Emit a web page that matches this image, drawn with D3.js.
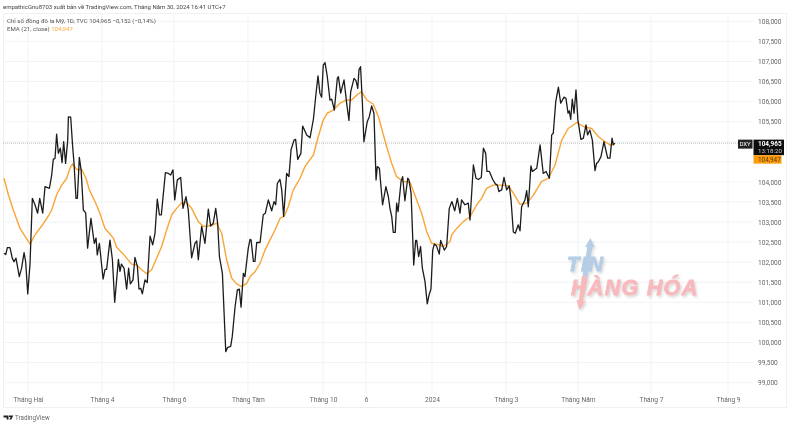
<!DOCTYPE html>
<html>

<head>
  <meta charset="utf-8">
  <style>
    body { margin: 0; background: #fff; }
    svg { filter: blur(0.3px); }
    text { font-family: Roboto, "Noto Sans", sans-serif; }
    .grid line { stroke: #f1f4f5; stroke-width: 1; }
    .axis path { display: none; }
    .axis text { fill: #666; font-size: 6.6px; }
  </style>
  <script src="https://d3js.org/d3.v7.min.js"></script>
</head>

<body>
  <svg width="797" height="437"></svg>
  <script>
    // bar number since the start of the window, then close
    var dxyDay = [0, 1, 1.9, 3.4, 4.7, 5.7, 6.8, 8.7, 10, 11.4, 12.3, 13.5, 14.8, 16.1, 17.6, 19.1, 20.3, 22, 23.3, 25.8, 27.1, 28, 29, 29.9, 30.9, 32, 33, 33.9, 35, 36.2, 36.6, 37.9, 39, 39.8, 40.9, 41.7, 42.8, 43.8, 45.1, 46.4, 47.5, 49.4, 51.3, 52.3, 53, 54.2, 56.3, 57.4, 58.3, 60.2, 61.6, 62.9, 65, 65.9, 66.7, 68.2, 69.7, 70.8, 71.8, 73.3, 74.4, 75.8, 76.7, 77.7, 78.6, 80.1, 81.4, 83, 84.5, 85.8, 87.1, 88.3, 89.4, 91.7, 93.4, 94.7, 96, 97, 98.5, 100.4, 101.7, 103.4, 104.7, 106.6, 108.5, 109.5, 110.4, 112.3, 114.2, 116.1, 117.4, 118.9, 120.3, 121.4, 122.4, 124.1, 126, 127.1, 128.8, 129.7, 131.3, 132.6, 133.7, 134.7, 136, 136.9, 138.8, 139.8, 140.4, 141.7, 142.6, 143.6, 145.5, 147.3, 148.5, 150.2, 152.1, 153.4, 154.4, 155.3, 156.8, 157.8, 158.9, 160.6, 161.9, 163.1, 164.8, 165.7, 166.9, 168.7, 169.7, 172, 173.9, 175.8, 177.1, 178.4, 179.5, 180.5, 181.4, 182.4, 183.7, 185.2, 186.2, 187.7, 189.4, 190, 191.3, 193.2, 194.7, 196, 197, 198.9, 200, 201, 201.7, 202.6, 203.6, 204.5, 206.4, 207.6, 208.9, 210.2, 211.4, 212.1, 213.3, 215.1, 217, 218.4, 219.3, 220.3, 221.2, 222.3, 223.1, 223.9, 225.6, 226.5, 227.8, 229.4, 230.1, 231.3, 232.8, 233.9, 234.5, 235.6, 236.7, 237.7, 239.2, 240.5, 241.5, 242.6, 243.6, 244.5, 245.8, 247.3, 248.1, 250.2, 251.5, 253, 254.5, 256.1, 257.6, 259.1, 260, 261.9, 263.8, 264.8, 266.7, 268.2, 269.5, 271.2, 272.4, 273.7, 274.4, 275.8, 277.7, 279.2, 280.3, 281.2, 282.8, 284.1, 285.6, 287.1, 288.1, 289.4, 290.5, 292.2, 293.2, 294.1, 296, 297, 297.9, 299.4, 300.2, 302.7, 304.6, 306.4, 308, 309.9, 311.2, 312.1, 313.5, 315, 316.3, 318.2, 319.3, 320.5, 321.2, 322, 322.9, 323.9, 325, 326.1, 327.8, 329.2, 330.7, 331.6, 332.9, 334.3, 335.8, 336.7, 337.7, 339.2, 340.9, 343, 344.3, 345.5, 346.2, 347];
    var dxyClose = [102.22, 102.19, 102.36, 102.36, 102.1, 102.01, 102.1, 101.64, 101.85, 102.24, 102.01, 101.21, 101.97, 103.59, 103.43, 103.22, 103.59, 103.22, 103.88, 103.84, 104.17, 104.56, 104.59, 105.19, 104.71, 104.84, 104.48, 105, 104.46, 105.04, 105.62, 105.61, 104.88, 104.46, 103.59, 103.59, 104.61, 104.3, 103.3, 103.23, 102.35, 103.09, 102.47, 102.6, 102.18, 102.47, 101.58, 101.82, 101.82, 102.55, 102.06, 101, 102.07, 101.77, 101.95, 101.85, 101.33, 101.85, 101.46, 101.56, 102.12, 101.89, 101.33, 101.35, 101.21, 101.56, 101.49, 102.65, 102.43, 102.72, 103.57, 103.18, 103.18, 104.23, 104.21, 104.17, 104.3, 103.55, 104.05, 104.11, 103.34, 103.63, 103.3, 102.11, 102.47, 102.53, 102.06, 102.89, 102.47, 103.32, 102.9, 102.97, 103.34, 102.97, 102.14, 101.72, 99.77, 99.88, 99.9, 100.15, 100.89, 101.31, 101.33, 100.88, 101.72, 101.64, 102.35, 102.57, 102.55, 102.02, 102.02, 102.49, 102.49, 103.18, 103.22, 103.55, 103.28, 103.51, 103.43, 103.96, 104.06, 103.8, 103.14, 104.21, 104.13, 104.8, 105.04, 105.06, 104.56, 104.71, 105.39, 105.17, 105.1, 105.56, 106.12, 106.64, 106.21, 106.11, 106.91, 106.97, 106.62, 106.04, 106.06, 105.79, 106.58, 106.62, 106.21, 106.54, 105.96, 105.53, 106.25, 106.58, 106.52, 106.33, 106.79, 106.87, 106, 105, 105.5, 105.63, 105.89, 105.71, 104.05, 104.38, 104.34, 103.43, 103.88, 103.63, 103.34, 103.14, 102.74, 102.74, 103.47, 103.26, 104.01, 104.13, 103.53, 104.09, 104.05, 103.72, 101.93, 102.54, 102.54, 102.14, 102.39, 101.85, 101.52, 100.96, 101.18, 101.33, 102.3, 102.45, 102.4, 102.2, 102.54, 102.3, 102.39, 103.34, 103.51, 103.28, 103.59, 103.22, 103.55, 103.43, 103.47, 103.05, 104.42, 104.09, 104.06, 104.11, 104.84, 104.71, 104.26, 104.26, 104.06, 103.95, 103.92, 103.76, 103.8, 104.11, 103.8, 103.9, 103.55, 102.75, 102.72, 102.93, 102.78, 103.38, 103.55, 103.78, 103.38, 104.4, 104.26, 104.34, 104.92, 104.21, 104.26, 104.09, 105.17, 105.21, 106, 106.36, 105.96, 106.11, 106.08, 105.71, 105.77, 105.56, 106.06, 105.71, 106.29, 105.54, 105.06, 105.09, 105.42, 105.17, 105.29, 105.04, 104.28, 104.46, 104.5, 104.63, 105, 104.59, 104.59, 105.09, 104.92, 104.965];

    var emaDay = [0, 2.5, 5.3, 9.1, 11.9, 14.8, 17.6, 21.4, 25.2, 27.1, 29.9, 32.8, 35.6, 37.5, 39, 41.3, 44.1, 46.6, 48.5, 51.7, 54.5, 57.4, 60.2, 62.1, 64, 67.8, 72.5, 75.4, 78.2, 81.1, 83.9, 86.7, 89.6, 92.4, 95.3, 98.1, 101, 103.8, 106.6, 110.4, 113.3, 116.1, 118.9, 120.8, 123.7, 126.5, 129.4, 132.2, 135, 137.9, 139.8, 142.6, 145.5, 148.3, 151.1, 154, 156.8, 159.3, 161.5, 164.4, 168.2, 171, 175.8, 178.6, 181.4, 183.7, 187.1, 190.9, 194.7, 197.5, 200.4, 203.2, 206.1, 209.8, 212.7, 217.4, 220.3, 223.1, 226.9, 230.7, 234.5, 237.3, 240.2, 243, 245.8, 249.6, 253.4, 254.4, 257.2, 261, 264.8, 268.6, 271.4, 274.2, 278, 281.8, 286.6, 289.4, 293.2, 297, 300.8, 305.5, 309.3, 313.1, 316.9, 320.6, 325.4, 329.2, 333.9, 337.7, 340.5, 344.3, 347];
    var emaValue = [104.09, 103.68, 103.3, 102.84, 102.65, 102.45, 102.68, 102.9, 103.15, 103.3, 103.68, 103.92, 104.09, 104.34, 104.45, 104.31, 104.31, 104.09, 103.8, 103.51, 103.22, 102.84, 102.7, 102.6, 102.37, 102.2, 101.95, 101.93, 101.81, 101.71, 101.81, 102.1, 102.39, 102.8, 103.18, 103.34, 103.48, 103.49, 103.34, 103.01, 102.89, 102.9, 102.93, 102.97, 102.72, 102.06, 101.6, 101.46, 101.39, 101.47, 101.64, 101.76, 101.97, 102.3, 102.55, 102.8, 103.09, 103.15, 103.38, 103.8, 104.09, 104.38, 104.67, 105.13, 105.54, 105.71, 105.79, 105.96, 106.04, 106.04, 106.16, 106.25, 106.04, 105.94, 105.63, 104.88, 104.46, 104.13, 104.01, 103.99, 103.55, 103.22, 102.76, 102.47, 102.45, 102.39, 102.51, 102.68, 102.84, 103.01, 103.13, 103.43, 103.59, 103.84, 103.92, 103.92, 103.9, 103.72, 103.44, 103.47, 103.67, 104.01, 104.09, 104.42, 105.04, 105.33, 105.48, 105.38, 105.33, 105.13, 105.03, 104.92, 104.947];

    var priceTicks = [99, 99.5, 100, 100.5, 101, 101.5, 102, 102.5, 103, 103.5, 104, 104.5, 105, 105.5, 106, 106.5, 107, 107.5, 108];
    // 104,500 and 105,000 are hidden behind the price tags
    var priceLabels = [99, 99.5, 100, 100.5, 101, 101.5, 102, 102.5, 103, 103.5, 104, 105.5, 106, 106.5, 107, 107.5, 108];
    var timeTickDays = [13.6, 55.7, 96.6, 138.6, 181.3, 205.7, 243.2, 285.2, 326.1, 367.6, 411.4];
    var timeTickLabels = ["Tháng Hai", "Tháng 4", "Tháng 6", "Tháng Tám", "Tháng 10", "6", "2024", "Tháng 3", "Tháng Năm", "Tháng 7", "Tháng 9"];

    var lastClose = 104.965,
      lastEma = 104.947;

    var svg = d3.select("svg"),
      margin = { top: 13, right: 11, bottom: 29, left: 3 },
      width = +svg.attr("width") - margin.left - margin.right,
      height = +svg.attr("height") - margin.top - margin.bottom,
      axisLeftAt = 750;

    var x = d3.scaleLinear().domain([0, 347]).range([4, 614.7]),
      y = d3.scaleLinear().domain([99, 108]).range([382.6, 21.3]);

    var fmt = function(v) {
      return d3.format(".3f")(v).replace(".", ",");
    };

    // pane frame
    svg.append("rect")
      .attr("x", margin.left + 0.5)
      .attr("y", margin.top + 0.5)
      .attr("width", width)
      .attr("height", height - 1)
      .attr("fill", "none")
      .attr("stroke", "#eef1f3");

    // horizontal grid
    svg.append("g")
      .attr("class", "grid")
      .selectAll("line")
      .data(priceTicks)
      .enter().append("line")
      .attr("x1", margin.left)
      .attr("x2", 753)
      .attr("y1", function(d) { return y(d); })
      .attr("y2", function(d) { return y(d); });

    // vertical grid
    svg.append("g")
      .attr("class", "grid")
      .selectAll("line")
      .data(timeTickDays)
      .enter().append("line")
      .attr("x1", function(d) { return x(d); })
      .attr("x2", function(d) { return x(d); })
      .attr("y1", margin.top)
      .attr("y2", 394);

    // axes
    svg.append("g")
      .attr("class", "axis")
      .attr("transform", "translate(" + axisLeftAt + ",0)")
      .call(d3.axisRight(y).tickValues(priceLabels).tickSize(0).tickPadding(8).tickFormat(fmt));

    svg.append("g")
      .attr("class", "axis")
      .attr("transform", "translate(0,394)")
      .call(d3.axisBottom(x).tickValues(timeTickDays).tickSize(0).tickPadding(3)
        .tickFormat(function(d, i) { return timeTickLabels[i]; }));

    // watermark sits under the lines
    var defs = svg.append("defs");
    var shadow = defs.append("filter").attr("id", "wmShadow")
      .attr("x", "-10%").attr("y", "-10%").attr("width", "120%").attr("height", "130%");
    shadow.append("feDropShadow")
      .attr("dx", 1.5).attr("dy", 2).attr("stdDeviation", 1.2)
      .attr("flood-color", "#999").attr("flood-opacity", 0.35);

    var wm = svg.append("g").attr("filter", "url(#wmShadow)");
    wm.append("path")
      .attr("d", "M590.5 238 L594.5 247 L592.3 247 L587 280 L582 280 L587.3 247 L585 247 Z")
      .attr("fill", "#b5cde6");
    wm.append("text")
      .attr("x", 567).attr("y", 270.5)
      .attr("font-size", 20.5).attr("font-weight", 700).attr("font-style", "italic")
      .attr("fill", "#b5cde6").attr("stroke", "#b5cde6").attr("stroke-width", 0.8)
      .attr("letter-spacing", 1.5)
      .style("font-family", "'Liberation Sans', sans-serif")
      .text("TIN");
    wm.append("text")
      .attr("x", 571).attr("y", 295)
      .attr("font-size", 21.5).attr("font-weight", 700).attr("font-style", "italic")
      .attr("fill", "#f8b9bd").attr("stroke", "#f8b9bd").attr("stroke-width", 0.8)
      .attr("letter-spacing", 1.3)
      .style("font-family", "'Liberation Sans', sans-serif")
      .text("HÀNG HÓA");
    wm.append("path")
      .attr("d", "M582 276 L587 276 L583 301 L585.5 301 L579.5 310 L576.5 300 L578.8 300 Z")
      .attr("fill", "#f8b9bd");

    // last price line
    svg.append("line")
      .attr("x1", margin.left)
      .attr("x2", 739)
      .attr("y1", y(lastClose))
      .attr("y2", y(lastClose))
      .attr("stroke", "#bdbdbd")
      .attr("stroke-width", 1)
      .attr("stroke-dasharray", "1 1");

    var line = d3.line()
      .x(function(d) { return x(d[0]); })
      .y(function(d) { return y(d[1]); });

    svg.append("path")
      .datum(d3.zip(emaDay, emaValue))
      .attr("fill", "none")
      .attr("stroke", "#f9a537")
      .attr("stroke-width", 1.4)
      .attr("stroke-linejoin", "round")
      .attr("d", line);

    svg.append("path")
      .datum(d3.zip(dxyDay, dxyClose))
      .attr("fill", "none")
      .attr("stroke", "#1c1c1c")
      .attr("stroke-width", 1.3)
      .attr("stroke-linejoin", "round")
      .attr("d", line);

    // price tags on the right
    var tagY = y(lastClose);
    svg.append("rect").attr("x", 738).attr("y", tagY - 3.5).attr("width", 14.5).attr("height", 9).attr("fill", "#222");
    svg.append("text").attr("x", 745).attr("y", tagY + 3.2).attr("text-anchor", "middle")
      .attr("font-size", 6).attr("fill", "#fff").text("DXY");
    svg.append("rect").attr("x", 753.5).attr("y", tagY - 3.5).attr("width", 30.5).attr("height", 15.5).attr("fill", "#0d0d0d");
    svg.append("text").attr("x", 758).attr("y", tagY + 3.2)
      .attr("font-size", 6.4).attr("font-weight", 700).attr("fill", "#fff").text(fmt(lastClose));
    svg.append("text").attr("x", 758).attr("y", tagY + 10.3)
      .attr("font-size", 6.2).attr("fill", "#ccc").text("13:18:20");
    svg.append("rect").attr("x", 753.5).attr("y", tagY + 12).attr("width", 28).attr("height", 8.5).attr("fill", "#fb9c0e");
    svg.append("text").attr("x", 758).attr("y", tagY + 18.6)
      .attr("font-size", 6.4).attr("fill", "#5a3a00").text(fmt(lastEma));

    // header and legend
    svg.append("text").attr("x", 3).attr("y", 9.2).attr("font-size", 6).attr("fill", "#444")
      .text("empathicGnu8703 xuất bản về TradingView.com, Tháng Năm 30, 2024 16:41 UTC+7");
    svg.append("text").attr("x", 7).attr("y", 22.6).attr("font-size", 6.1).attr("fill", "#555")
      .text("Chỉ số đồng đô la Mỹ, 1D, TVC  104,965  −0,152 (−0,14%)");
    var ema = svg.append("text").attr("x", 7).attr("y", 31).attr("font-size", 6.1).attr("fill", "#555");
    ema.append("tspan").text("EMA (21, close)  ");
    ema.append("tspan").attr("fill", "#f9a537").text("104,947");

    // TradingView footer
    svg.append("path")
      .attr("d", "M3.5 415.5 H8.5 V419.5 H6.6 V417.4 H3.5 Z M9 415.5 H13.4 L11.2 419.5 H9.2 L10.6 417 H9 Z")
      .attr("fill", "#222");
    svg.append("text").attr("x", 15).attr("y", 419.5).attr("font-size", 6.3).attr("fill", "#666").text("TradingView");
  </script>
</body>
</html>
